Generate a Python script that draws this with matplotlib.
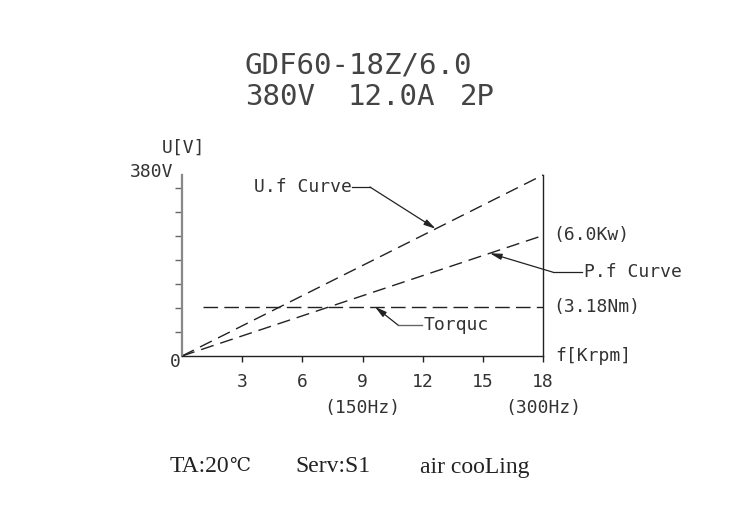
import matplotlib
matplotlib.use("Agg")
import matplotlib.pyplot as plt
import numpy as np

# ---- data (schematic units: x in Krpm, y in grid divisions) ----
freq_krpm = [0, 18]
uf_curve = [0, 7.54]          # U.f curve
pf_curve = [0, 5.02]          # P.f curve
torque_x = [1.05, 18]
torque_y = [2.05, 2.05]       # constant torque
x_ticks = [3, 6, 9, 12, 15, 18]
x_tick_labels = ["3", "6", "9", "12", "15", "18"]
y_ticks = [1, 2, 3, 4, 5, 6, 7]
hz_labels = {9: "(150Hz)", 18: "(300Hz)"}

title1 = "GDF60-18Z/6.0"
title2_parts = ["380V", "12.0A", "2P"]
footer_parts = ["TA:20", "Serv:S1", "air cooLing"]
degc = "℃"

CAD = "DejaVu Sans Mono"
TXT = "#333333"
LN = "#222222"
FS = 13

fig = plt.figure(figsize=(7.5, 5.2), dpi=100)
ax = fig.add_axes([182 / 750, 164 / 520, 361 / 750, 181 / 520])
ax.set_xlim(0, 18)
ax.set_ylim(0, 7.54)
ax.patch.set_alpha(0)

for s in ["top", "right"]:
    ax.spines[s].set_visible(False)
ax.spines["left"].set_color("#888888")
ax.spines["left"].set_linewidth(1.6)
ax.spines["bottom"].set_color(LN)
ax.spines["bottom"].set_linewidth(1.0)

ax.set_xticks(x_ticks)
ax.set_xticklabels(x_tick_labels, family=CAD, fontsize=FS, color=TXT)
ax.tick_params(axis="x", direction="out", length=4, width=1, color=LN, pad=8)
ax.set_yticks(y_ticks)
ax.set_yticklabels([])
ax.tick_params(axis="y", direction="out", length=5, width=1, color="#666666")

# right vertical line
ax.plot([freq_krpm[-1], freq_krpm[-1]], [0, uf_curve[-1]], color=LN, lw=1.0, clip_on=False)

ax.plot(freq_krpm, uf_curve, color=LN, lw=1.0, dashes=(9.5, 5), clip_on=False)
ax.plot(freq_krpm, pf_curve, color=LN, lw=1.0, dashes=(9.5, 5), clip_on=False)
ax.plot(torque_x, torque_y, color=LN, lw=1.0, dashes=(10.5, 4.5), clip_on=False)

arrow_kw = dict(arrowstyle="-|>,head_length=0.7,head_width=0.18", color=LN, lw=0.9,
                shrinkA=0, shrinkB=0, mutation_scale=10)

# U.f Curve label + leader
uf_x = 12.65
uf_y = np.interp(uf_x, freq_krpm, uf_curve)
ax.text(8.45, 7.04, "U.f Curve", family=CAD, fontsize=FS, color=TXT, ha="right", va="center")
ax.plot([8.5, 9.37], [7.04, 7.04], color=LN, lw=0.9, clip_on=False)
ax.annotate("", xy=(uf_x, uf_y), xytext=(9.37, 7.04), arrowprops=arrow_kw, annotation_clip=False)

# P.f Curve label + leader
pf_x = 15.35
pf_y = np.interp(pf_x, freq_krpm, pf_curve)
ax.text(20.05, 3.49, "P.f Curve", family=CAD, fontsize=FS, color=TXT, ha="left", va="center")
ax.plot([18.5, 19.95], [3.49, 3.49], color=LN, lw=0.9, clip_on=False)
ax.annotate("", xy=(pf_x, pf_y), xytext=(18.5, 3.49), arrowprops=arrow_kw, annotation_clip=False)

# Torque label + leader
tq_x = 9.62
ax.text(12.05, 1.29, "Torquc", family=CAD, fontsize=FS, color=TXT, ha="left", va="center")
ax.plot([10.77, 11.95], [1.29, 1.29], color="#666666", lw=1.0, clip_on=False)
ax.annotate("", xy=(tq_x, torque_y[0]), xytext=(10.77, 1.29), arrowprops=arrow_kw, annotation_clip=False)

# right-side value labels
ax.text(18.5, pf_curve[-1], "(6.0Kw)", family=CAD, fontsize=FS, color=TXT, ha="left", va="center")
ax.text(18.5, torque_y[-1], "(3.18Nm)", family=CAD, fontsize=FS, color=TXT, ha="left", va="center")
ax.text(18.6, 0, "f[Krpm]", family=CAD, fontsize=FS, color=TXT, ha="left", va="center")

# y-axis labels
ax.text(0.05, 8.67, "U[V]", family=CAD, fontsize=FS, color=TXT, ha="center", va="center")
ax.text(-0.45, 7.67, "380V", family=CAD, fontsize=FS, color=TXT, ha="right", va="center")
ax.text(-0.35, -0.25, "0", family=CAD, fontsize=FS, color=TXT, ha="center", va="center")

for xv, lab in hz_labels.items():
    ax.text(xv, -2.15, lab, family=CAD, fontsize=FS, color=TXT, ha="center", va="center")

# title
fig.text(245 / 750, 1 - 65 / 520, title1, family=CAD, fontsize=21, color="#444444",
         ha="left", va="center")
for xp, part in zip([245, 348, 460], title2_parts):
    fig.text(xp / 750, 1 - 97 / 520, part, family=CAD, fontsize=21, color="#444444",
             ha="left", va="center")

# footer
for xp, part in zip([170, 295, 420], footer_parts):
    fig.text(xp / 750, 1 - 467 / 520, part, family=["Liberation Serif", "DejaVu Serif"],
             fontsize=17, color="#222222", ha="left", va="center")
fig.text(229 / 750, 1 - 466 / 520, degc, family=["DejaVu Serif"],
         fontsize=13.5, color="#222222", ha="left", va="center")

fig.savefig("out.png", dpi=100)
